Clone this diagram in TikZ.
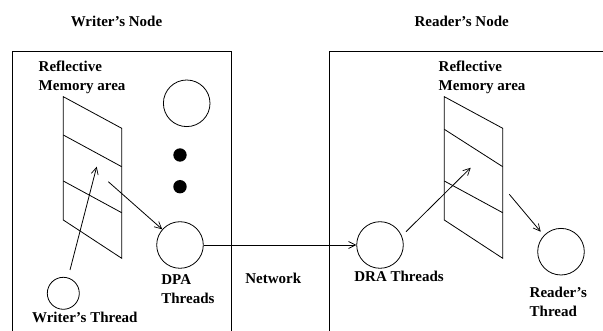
\documentclass[tikz,border=0pt]{standalone}
\usepackage{fontspec}
\setmainfont{Liberation Serif}
\usetikzlibrary{arrows.meta}
\begin{document}
\begin{tikzpicture}[x=1pt,y=-1pt,
  line width=0.8pt,
  lbl/.style={inner sep=0pt,anchor=base west,align=left,
    font=\fontsize{15}{19}\selectfont\bfseries},
  ttl/.style={inner sep=0pt,anchor=base,
    font=\fontsize{15}{19}\selectfont\bfseries},
  thread/.style={circle,draw,inner sep=0pt,minimum size=46.6pt},
  dot/.style={circle,fill=black,inner sep=0pt,minimum size=13.4pt},
  flow/.style={-{Straight Barb[length=7pt,width=7pt,line width=0.7pt]}},
]
\clip (0,0) rectangle (603,331);

% node outlines (open at the bottom and right edges)
\draw (12.7,345) -- (12.7,51.7) -- (231,51.7) -- (231,345);
\draw (329.3,345) -- (329.3,51.7) -- (620,51.7);

\node[ttl] (wnode) at (116.5,26.7) {Writer's Node};
\node[ttl] (rnode) at (461.7,26.7) {Reader's Node};

% ---- writer side ----
% multi-line labels are placed by the baseline of their last line
\node[lbl] (wmemlbl) at (38.3,90.7) {Reflective\\Memory area};
\draw (63.3,96.7) -- (121.7,128.3) -- (121.7,258.3) -- (63.3,220) -- cycle;
\draw (63.3,135) -- (121.7,166.7);
\draw (63.3,181) -- (121.7,212.7);

\node[thread] (wspare) at (186.7,103.3) {};
\node[dot] (dot1) at (180,155) {};
\node[dot] (dot2) at (180,186.7) {};
\node[thread] (dpa) at (180,245) {};
\node[lbl] (dpalbl) at (161,303.3) {DPA\\Threads};

\node[circle,draw,inner sep=0pt,minimum size=32pt] (wt) at (63.3,293.3) {};
\node[lbl] (wtlbl) at (31.7,322.7) {Writer's Thread};

\coordinate (wtout) at (70,270);
\coordinate (wmemin) at (96.7,166.7);
\coordinate (wmemout) at (108.3,181.7);
\draw[flow] (wtout) -- (wmemin);
\draw[flow] (wmemout) -- (dpa);

% ---- network ----
\node[thread] (dra) at (380,245) {};
\draw[flow] (dpa) -- (dra);
\node[lbl] (netlbl) at (245,283.3) {Network};

% ---- reader side ----
\node[lbl] (rmemlbl) at (438.3,90.7) {Reflective\\Memory area};
\draw (444.3,96.7) -- (502.7,128.3) -- (502.7,258.3) -- (444.3,220) -- cycle;
\draw (444.3,129.3) -- (502.7,166.7);
\draw (444.3,181) -- (502.7,212.7);

\node[lbl] (dralbl) at (354,281.7) {DRA Threads};
\node[thread] (rt) at (561,251.7) {};
\node[lbl] (rtlbl) at (529.3,316.7) {Reader's\\Thread};

\coordinate (draout) at (406,231.7);
\coordinate (rmemin) at (470.7,167.7);
\coordinate (rmemout) at (509.3,194.3);
\coordinate (rtin) at (540.7,231.7);
\draw[flow] (draout) -- (rmemin);
\draw[flow] (rmemout) -- (rtin);
\end{tikzpicture}
\end{document}
